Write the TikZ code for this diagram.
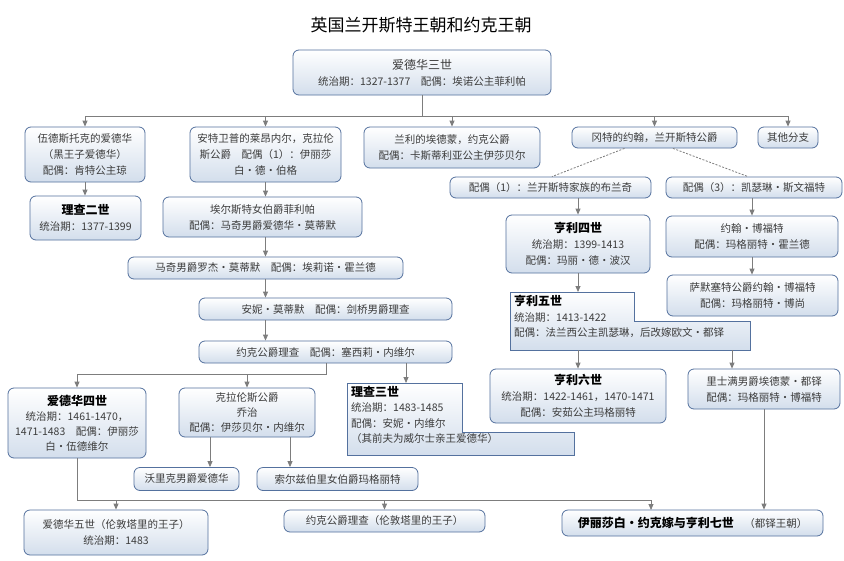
\documentclass[tikz,border=0pt]{standalone}
\usepackage{fontspec}
\setmainfont{Noto Sans CJK SC}
\usetikzlibrary{arrows.meta,calc}
\definecolor{bordc}{RGB}{84,113,158}
\definecolor{boxbot}{RGB}{211,222,236}
\definecolor{linec}{RGB}{125,125,125}
\definecolor{txtc}{RGB}{60,60,60}
\newcommand{\hd}[1]{{\fontsize{12}{16}\selectfont\bfseries\color{black}#1}}
\tikzset{
  box/.style={draw=bordc, line width=0.8pt, rounded corners=6pt, top color=white, bottom color=boxbot,
    align=center, inner sep=2pt, text=txtc, font={\fontsize{10.5}{16}\selectfont}},
  sbox/.style={draw=bordc, line width=0.8pt, top color=white, bottom color=boxbot},
  ltext/.style={align=left, inner sep=0pt, anchor=north west, text=txtc, font={\fontsize{10.5}{15.5}\selectfont}},
  conn/.style={draw=linec, line width=0.8pt},
  arr/.style={conn, -{Triangle[length=6pt,width=5pt]}},
}
\begin{document}
\begin{tikzpicture}[x=1pt,y=-1pt]
\useasboundingbox[fill=white] (0,0) rectangle (844,560);
\node[font={\fontsize{17}{20}\selectfont}, text=black] (title) at (421,25) {英国兰开斯特王朝和约克王朝};

\node[box, minimum width=258, minimum height=45] (e3) at (422,72.5) {{\fontsize{12}{16}\selectfont 爱德华三世}\\统治期：1327-1377　配偶：埃诺公主菲利帕};

\node[box, minimum width=120, minimum height=55] (bp) at (85,154.5) {伍德斯托克的爱德华\\（黑王子爱德华）\\配偶：肯特公主琼};
\node[box, minimum width=151, minimum height=55] (lio) at (265.5,154.5) {安特卫普的莱昂内尔，克拉伦\\斯公爵　配偶（1）：伊丽莎\\白・德・伯格};
\node[box, minimum width=176, minimum height=41] (edm) at (452,147.5) {兰利的埃德蒙，约克公爵\\配偶：卡斯蒂利亚公主伊莎贝尔};
\node[box, minimum width=165, minimum height=21] (gaunt) at (654.5,137.5) {冈特的约翰，兰开斯特公爵};
\node[box, minimum width=60, minimum height=21] (oth) at (788,137.5) {其他分支};

\node[box, minimum width=201, minimum height=21] (sp1) at (550.5,187.5) {配偶（1）：兰开斯特家族的布兰奇};
\node[box, minimum width=176, minimum height=21] (sp3) at (754,187.5) {配偶（3）：凯瑟琳・斯文福特};

\node[box, minimum width=111, minimum height=44] (r2) at (85.5,218) {\hd{理查二世}\\统治期：1377-1399};
\node[box, minimum width=199, minimum height=40] (phil) at (262.5,217) {埃尔斯特女伯爵菲利帕\\配偶：马奇男爵爱德华・莫蒂默};
\node[box, minimum width=144, minimum height=58] (h4) at (578,244) {\hd{亨利四世}\\统治期：1399-1413\\配偶：玛丽・德・波汉};
\node[box, minimum width=172, minimum height=41] (jb) at (752,236.5) {约翰・博福特\\配偶：玛格丽特・霍兰德};
\node[box, minimum width=275, minimum height=22] (roger) at (265.5,268) {马奇男爵罗杰・莫蒂默　配偶：埃莉诺・霍兰德};
\node[box, minimum width=171, minimum height=41] (som) at (752.5,295.5) {萨默塞特公爵约翰・博福特\\配偶：玛格丽特・博尚};

% Henry V (stepped box)
\path[sbox] (510,292) -- (634,292) -- (634,321) -- (750,321) -- (750,350) -- (510,350) -- cycle;
\node[ltext] (h5) at (514,295) {\hd{亨利五世}\\统治期：1413-1422\\配偶：法兰西公主凯瑟琳，后改嫁欧文・都铎};
\coordinate (h5top) at (578,292);
\coordinate (h5a) at (578,350);
\coordinate (h5b) at (732,350);

\node[box, minimum width=253, minimum height=22] (anne) at (325.5,309) {安妮・莫蒂默　配偶：剑桥男爵理查};
\node[box, minimum width=253, minimum height=22] (ryork) at (325.5,352) {约克公爵理查　配偶：塞西莉・内维尔};

\node[box, minimum width=176, minimum height=54] (h6) at (578,396) {\hd{亨利六世}\\统治期：1422-1461，1470-1471\\配偶：安茹公主玛格丽特};
\node[box, minimum width=152, minimum height=40] (et) at (764,389) {里士满男爵埃德蒙・都铎\\配偶：玛格丽特・博福特};

\node[box, minimum width=138, minimum height=70, font={\fontsize{10.5}{15}\selectfont}] (e4) at (77,423) {\hd{爱德华四世}\\统治期：1461-1470，\\1471-1483　配偶：伊丽莎\\白・伍德维尔};
\node[box, minimum width=136, minimum height=49, font={\fontsize{10.5}{15}\selectfont}] (clar) at (247,412.5) {克拉伦斯公爵\\乔治\\配偶：伊莎贝尔・内维尔};

% Richard III (stepped box)
\path[sbox] (347,383) -- (462,383) -- (462,432) -- (574,432) -- (574,455) -- (347,455) -- cycle;
\node[ltext] (r3) at (351,386) {\hd{理查三世}\\统治期：1483-1485\\配偶：安妮・内维尔\\（其前夫为威尔士亲王爱德华）};
\coordinate (r3top) at (406,383);

\node[box, minimum width=105, minimum height=23] (warw) at (186.5,479) {沃里克男爵爱德华};
\node[box, minimum width=161, minimum height=23] (salis) at (337.5,479) {索尔兹伯里女伯爵玛格丽特};

\node[box, minimum width=184, minimum height=45] (e5) at (116,532.5) {爱德华五世（伦敦塔里的王子）\\统治期：1483};
\node[box, minimum width=201, minimum height=22] (pr) at (384.5,521) {约克公爵理查（伦敦塔里的王子）};
\node[box, minimum width=261, minimum height=26] (eliz) at (692.5,523) {\hd{伊丽莎白・约克嫁与亨利七世}\quad（都铎王朝）};
\coordinate (elt) at (651,510);

% connectors
\foreach \c in {bp,lio,edm,gaunt,oth}
  \draw[arr] (e3.south) -- ++(0,21) -| (\c.north);
\draw[conn, dash pattern=on 2pt off 1.5pt] ($(gaunt.south)+(-30,0)$) -- ($(sp1.north)+(1.5,0)$);
\draw[conn, dash pattern=on 2pt off 1.5pt] ($(gaunt.south)+(18.5,0)$) -- ($(sp3.north)+(-6,0)$);
\draw[arr] (bp.south) -- (bp.south |- r2.north);
\draw[arr] (lio.south) -- (lio.south |- phil.north);
\draw[arr] (lio.south |- phil.south) -- (lio.south |- roger.north);
\draw[arr] (lio.south |- roger.south) -- (lio.south |- anne.north);
\draw[arr] (lio.south |- anne.south) -- (lio.south |- ryork.north);
\draw[arr] (h4.north |- sp1.south) -- (h4.north);
\draw[arr] (jb.north |- sp3.south) -- (jb.north);
\draw[arr] (jb.south) -- (jb.south |- som.north);
\draw[arr] (h4.south) -- (h5top);
\draw[arr] (h5a) -- (h6.north);
\draw[arr] (h5b) -- (h5b |- et.north);
\coordinate (ry1) at (326,363);
\draw[arr] (ry1) -- ++(0,11) -| (e4.north);
\draw[arr] (ry1) -- ++(0,11) -| (clar.north);
\draw[arr] (ryork.south -| r3top) -- (r3top);
\coordinate (cw) at (210,0);
\coordinate (cs) at (290,0);
\draw[arr] (clar.south -| cw) -- (warw.north -| cw);
\draw[arr] (clar.south -| cs) -- (salis.north -| cs);
\draw[arr] (e4.south) -- ++(0,42) -| (e5.north);
\draw[arr] (e4.south) -- ++(0,42) -| (pr.north);
\draw[arr] (e4.south) -- ++(0,42) -| (elt);
\draw[arr] (et.south) -- (et.south |- eliz.north);
\end{tikzpicture}
\end{document}
